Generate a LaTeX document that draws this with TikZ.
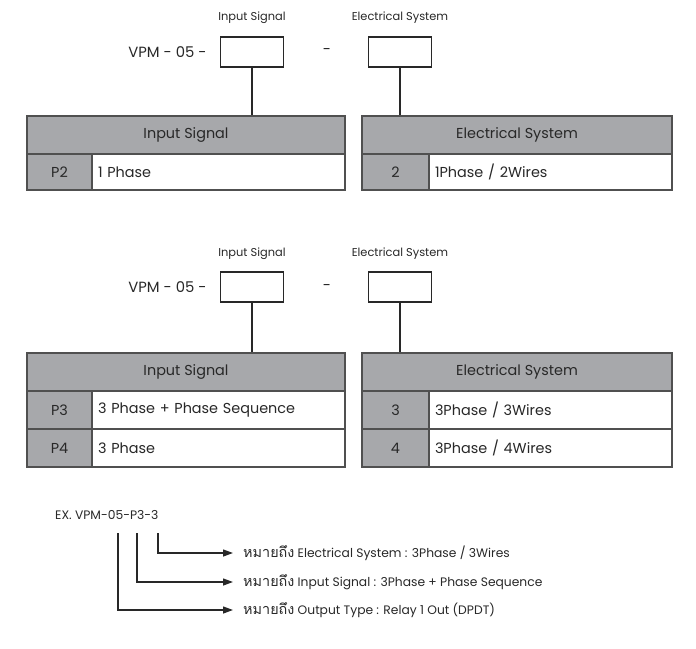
\documentclass[tikz,border=0pt]{standalone}
\usepackage{fontspec}
\setmainfont{Poppins}
\newfontfamily\thaifont[Script=Thai,Scale=1.17]{Loma}
\usetikzlibrary{arrows.meta}
\definecolor{cellgray}{RGB}{167,168,171}
\definecolor{edgegray}{RGB}{80,80,80}
\definecolor{inkgray}{RGB}{40,40,40}
\newcommand{\tabfont}{\fontsize{14.4}{16}\selectfont}
\newcommand{\codefont}{\fontsize{14.8}{16}\selectfont}
\newcommand{\notefont}{\fontsize{12.3}{14}\selectfont}
\newcommand{\tinyfont}{\fontsize{11.4}{13}\selectfont}
\tikzset{
  headcell/.style={draw=edgegray, line width=1.1pt, fill=cellgray, inner sep=0pt, font=\tabfont, text=inkgray},
  desccell/.style={draw=edgegray, line width=1.1pt, fill=white, inner xsep=6pt, inner ysep=0pt, align=left, font=\tabfont, text=inkgray},
  selbox/.style={draw=inkgray, line width=1.1pt, minimum width=63pt, minimum height=30pt, inner sep=0pt},
  link/.style={line width=1.6pt, inkgray},
  pointer/.style={line width=1.3pt, inkgray, -{Triangle[length=10pt,width=7pt]}, shorten >=10pt},
}
\begin{document}
\begin{tikzpicture}[x=1pt, y=-1pt, text=inkgray]
    \useasboundingbox (0,0) rectangle (696,648);

    % first code: single phase
    \node [font=\tinyfont] (lblin1) at (252,18) {Input Signal};
    \node [font=\tinyfont] (lblel1) at (400,18) {Electrical System};
    \node [selbox] (boxin1) at (252,52) {};
    \node [selbox] (boxel1) at (400,52) {};
    \node [font=\codefont, anchor=east] (vpm1) at (210,52) {VPM - 05 -};
    \node [font=\codefont] (dash1) at (327,52) {-};

    \node [headcell, minimum width=318pt, minimum height=38pt] (hdin1) at (186,135) {Input Signal};
    \node [headcell, minimum width=65pt, minimum height=36pt] (cdp2) at (59.5,172) {P2};
    \node [desccell, text width=241pt, minimum height=36pt] (dsp2) at (218.5,172) {1 Phase};

    \node [headcell, minimum width=310pt, minimum height=38pt] (hdel1) at (517,135) {Electrical System};
    \node [headcell, minimum width=67pt, minimum height=36pt] (cd2) at (395.5,172) {2};
    \node [desccell, text width=231pt, minimum height=36pt] (ds2) at (550.5,172) {1Phase / 2Wires};

    \draw [link] (boxin1.south) -- (boxin1 |- hdin1.north);
    \draw [link] (boxel1.south) -- (boxel1 |- hdel1.north);

    % second code: three phase
    \node [font=\tinyfont] (lblin2) at (252,254) {Input Signal};
    \node [font=\tinyfont] (lblel2) at (400,254) {Electrical System};
    \node [selbox] (boxin2) at (252,287) {};
    \node [selbox] (boxel2) at (400,287) {};
    \node [font=\codefont, anchor=east] (vpm2) at (210,287) {VPM - 05 -};
    \node [font=\codefont] (dash2) at (327,287) {-};

    \node [headcell, minimum width=318pt, minimum height=38pt] (hdin2) at (186,372) {Input Signal};
    \node [headcell, minimum width=65pt, minimum height=38pt] (cdp3) at (59.5,410) {P3};
    \node [desccell, text width=241pt, minimum height=38pt] (dsp3) at (218.5,410) {3 Phase + Phase Sequence};
    \node [headcell, minimum width=65pt, minimum height=38pt] (cdp4) at (59.5,448) {P4};
    \node [desccell, text width=241pt, minimum height=38pt] (dsp4) at (218.5,448) {3 Phase};

    \node [headcell, minimum width=310pt, minimum height=38pt] (hdel2) at (517,372) {Electrical System};
    \node [headcell, minimum width=67pt, minimum height=38pt] (cd3) at (395.5,410) {3};
    \node [desccell, text width=231pt, minimum height=38pt] (ds3) at (550.5,410) {3Phase / 3Wires};
    \node [headcell, minimum width=67pt, minimum height=38pt] (cd4) at (395.5,448) {4};
    \node [desccell, text width=231pt, minimum height=38pt] (ds4) at (550.5,448) {3Phase / 4Wires};

    \draw [link] (boxin2.south) -- (boxin2 |- hdin2.north);
    \draw [link] (boxel2.south) -- (boxel2 |- hdel2.north);

    % example
    \node [font=\notefont, anchor=west, inner sep=0pt] (ex) at (55,515) {EX. VPM-05-P3-3};
    \coordinate (out) at (118,533);
    \coordinate (sig) at (137,533);
    \coordinate (sys) at (158,533);

    \node [font=\notefont, anchor=west, inner sep=0pt] (nsys) at (243,553) {{\thaifont หมายถึง} Electrical System : 3Phase / 3Wires};
    \node [font=\notefont, anchor=west, inner sep=0pt] (nsig) at (243,582) {{\thaifont หมายถึง} Input Signal : 3Phase + Phase Sequence};
    \node [font=\notefont, anchor=west, inner sep=0pt] (nout) at (243,610) {{\thaifont หมายถึง} Output Type : Relay 1 Out (DPDT)};

    \draw [pointer] (sys) |- (nsys.west);
    \draw [pointer] (sig) |- (nsig.west);
    \draw [pointer] (out) |- (nout.west);
\end{tikzpicture}
\end{document}
